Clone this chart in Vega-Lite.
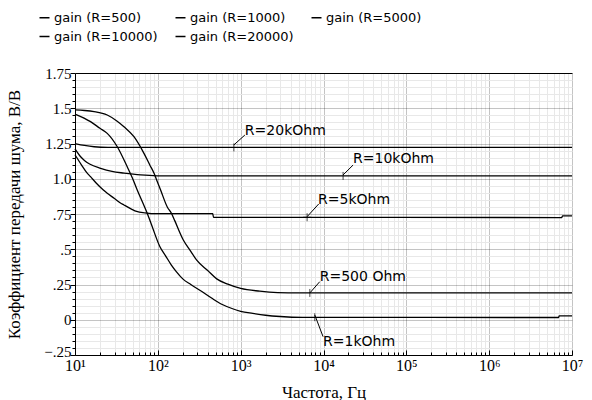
{
  "$schema": "https://vega.github.io/schema/vega-lite/v6.json",
  "width": 497,
  "height": 282,
  "autosize": {"type": "none"},
  "padding": {"left": 75, "top": 73, "right": 20, "bottom": 45},
  "background": "white",
  "config": {
    "view": {"stroke": null},
    "font": "DejaVu Sans",
    "legend": {
      "orient": "none",
      "legendX": -37,
      "legendY": -62,
      "columns": 3,
      "direction": "horizontal",
      "labelFont": "DejaVu Sans",
      "labelFontSize": 13,
      "labelColor": "black",
      "symbolType": "stroke",
      "symbolSize": 100,
      "symbolStrokeWidth": 1.5,
      "symbolStrokeColor": "black",
      "columnPadding": 14,
      "rowPadding": 5,
      "labelOffset": 3,
      "padding": 0
    }
  },
  "datasets": {
    "curves": [
      {"s": "gain (R=500)", "f": 10, "v": 1.488},
      {"s": "gain (R=500)", "f": 13, "v": 1.484},
      {"s": "gain (R=500)", "f": 17, "v": 1.476},
      {"s": "gain (R=500)", "f": 24.5, "v": 1.452},
      {"s": "gain (R=500)", "f": 32, "v": 1.41},
      {"s": "gain (R=500)", "f": 39, "v": 1.369},
      {"s": "gain (R=500)", "f": 51.5, "v": 1.298},
      {"s": "gain (R=500)", "f": 68, "v": 1.18},
      {"s": "gain (R=500)", "f": 80, "v": 1.098},
      {"s": "gain (R=500)", "f": 90, "v": 1.039},
      {"s": "gain (R=500)", "f": 97, "v": 0.99},
      {"s": "gain (R=500)", "f": 108, "v": 0.92},
      {"s": "gain (R=500)", "f": 130, "v": 0.8},
      {"s": "gain (R=500)", "f": 146, "v": 0.755},
      {"s": "gain (R=500)", "f": 160, "v": 0.703},
      {"s": "gain (R=500)", "f": 203, "v": 0.566},
      {"s": "gain (R=500)", "f": 250, "v": 0.485},
      {"s": "gain (R=500)", "f": 293, "v": 0.424},
      {"s": "gain (R=500)", "f": 400, "v": 0.349},
      {"s": "gain (R=500)", "f": 514, "v": 0.29},
      {"s": "gain (R=500)", "f": 700, "v": 0.252},
      {"s": "gain (R=500)", "f": 1000, "v": 0.222},
      {"s": "gain (R=500)", "f": 1700, "v": 0.203},
      {"s": "gain (R=500)", "f": 2800, "v": 0.193},
      {"s": "gain (R=500)", "f": 5000, "v": 0.19},
      {"s": "gain (R=500)", "f": 10000000, "v": 0.19},
      {"s": "gain (R=1000)", "f": 10, "v": 1.459},
      {"s": "gain (R=1000)", "f": 15.4, "v": 1.405},
      {"s": "gain (R=1000)", "f": 20, "v": 1.358},
      {"s": "gain (R=1000)", "f": 24.5, "v": 1.322},
      {"s": "gain (R=1000)", "f": 32.4, "v": 1.227},
      {"s": "gain (R=1000)", "f": 42.7, "v": 1.085},
      {"s": "gain (R=1000)", "f": 50.6, "v": 0.99},
      {"s": "gain (R=1000)", "f": 56.4, "v": 0.92},
      {"s": "gain (R=1000)", "f": 68, "v": 0.81},
      {"s": "gain (R=1000)", "f": 75, "v": 0.75},
      {"s": "gain (R=1000)", "f": 82, "v": 0.69},
      {"s": "gain (R=1000)", "f": 106, "v": 0.518},
      {"s": "gain (R=1000)", "f": 125, "v": 0.45},
      {"s": "gain (R=1000)", "f": 145, "v": 0.39},
      {"s": "gain (R=1000)", "f": 168, "v": 0.34},
      {"s": "gain (R=1000)", "f": 200, "v": 0.29},
      {"s": "gain (R=1000)", "f": 250, "v": 0.25},
      {"s": "gain (R=1000)", "f": 340, "v": 0.2},
      {"s": "gain (R=1000)", "f": 450, "v": 0.152},
      {"s": "gain (R=1000)", "f": 600, "v": 0.108},
      {"s": "gain (R=1000)", "f": 800, "v": 0.078},
      {"s": "gain (R=1000)", "f": 1000, "v": 0.06},
      {"s": "gain (R=1000)", "f": 1400, "v": 0.045},
      {"s": "gain (R=1000)", "f": 2000, "v": 0.032},
      {"s": "gain (R=1000)", "f": 3000, "v": 0.023},
      {"s": "gain (R=1000)", "f": 5600, "v": 0.017},
      {"s": "gain (R=1000)", "f": 6900000, "v": 0.016},
      {"s": "gain (R=1000)", "f": 7000000, "v": 0.027},
      {"s": "gain (R=1000)", "f": 10000000, "v": 0.027},
      {"s": "gain (R=5000)", "f": 10, "v": 1.17},
      {"s": "gain (R=5000)", "f": 12, "v": 1.097},
      {"s": "gain (R=5000)", "f": 13.8, "v": 1.045},
      {"s": "gain (R=5000)", "f": 15.4, "v": 1.015},
      {"s": "gain (R=5000)", "f": 18, "v": 0.97},
      {"s": "gain (R=5000)", "f": 22, "v": 0.92},
      {"s": "gain (R=5000)", "f": 24.5, "v": 0.897},
      {"s": "gain (R=5000)", "f": 30, "v": 0.86},
      {"s": "gain (R=5000)", "f": 35, "v": 0.83},
      {"s": "gain (R=5000)", "f": 39, "v": 0.814},
      {"s": "gain (R=5000)", "f": 48, "v": 0.785},
      {"s": "gain (R=5000)", "f": 55.5, "v": 0.768},
      {"s": "gain (R=5000)", "f": 70, "v": 0.758},
      {"s": "gain (R=5000)", "f": 98, "v": 0.752},
      {"s": "gain (R=5000)", "f": 460, "v": 0.752},
      {"s": "gain (R=5000)", "f": 470, "v": 0.727},
      {"s": "gain (R=5000)", "f": 7500000, "v": 0.725},
      {"s": "gain (R=5000)", "f": 7700000, "v": 0.736},
      {"s": "gain (R=5000)", "f": 10000000, "v": 0.736},
      {"s": "gain (R=10000)", "f": 10, "v": 1.212},
      {"s": "gain (R=10000)", "f": 11.7, "v": 1.156},
      {"s": "gain (R=10000)", "f": 13, "v": 1.13},
      {"s": "gain (R=10000)", "f": 15, "v": 1.105},
      {"s": "gain (R=10000)", "f": 20.4, "v": 1.074},
      {"s": "gain (R=10000)", "f": 28, "v": 1.052},
      {"s": "gain (R=10000)", "f": 39, "v": 1.04},
      {"s": "gain (R=10000)", "f": 62, "v": 1.027},
      {"s": "gain (R=10000)", "f": 98, "v": 1.021},
      {"s": "gain (R=10000)", "f": 200, "v": 1.02},
      {"s": "gain (R=10000)", "f": 10000000, "v": 1.02},
      {"s": "gain (R=20000)", "f": 10, "v": 1.25},
      {"s": "gain (R=20000)", "f": 13, "v": 1.236},
      {"s": "gain (R=20000)", "f": 17, "v": 1.227},
      {"s": "gain (R=20000)", "f": 25, "v": 1.223},
      {"s": "gain (R=20000)", "f": 10000000, "v": 1.222}
    ],
    "labels": [
      {"f": 1124, "v": 1.341, "text": "R=20kOhm"},
      {"f": 22750, "v": 1.138, "text": "R=10kOhm"},
      {"f": 8610, "v": 0.849, "text": "R=5kOhm"},
      {"f": 9010, "v": 0.305, "text": "R=500 Ohm"},
      {"f": 9880, "v": -0.156, "text": "R=1kOhm"}
    ],
    "leaders": [
      {"f": 828, "v": 1.24, "f2": 1124, "v2": 1.31},
      {"f": 17240, "v": 1.027, "f2": 22750, "v2": 1.097},
      {"f": 6340, "v": 0.731, "f2": 8750, "v2": 0.821},
      {"f": 6840, "v": 0.19, "f2": 9010, "v2": 0.27},
      {"f": 7850, "v": 0.034, "f2": 9880, "v2": -0.12}
    ],
    "markers": [
      {"f": 828, "v": 1.222, "kind": "tick"},
      {"f": 17240, "v": 1.02, "kind": "tick"},
      {"f": 6340, "v": 0.727, "kind": "cross"},
      {"f": 6840, "v": 0.19, "kind": "tick"},
      {"f": 7850, "v": 0.018, "kind": "tick"}
    ]
  },
  "layer": [
    {
      "data": {"name": "curves"},
      "mark": {"type": "line", "strokeWidth": 1.3, "interpolate": "monotone"},
      "encoding": {
        "x": {
          "field": "f",
          "type": "quantitative",
          "scale": {"type": "log", "domain": [10, 10000000], "nice": false},
          "axis": {
            "title": "Частота, Гц",
            "titleFont": "Liberation Serif",
            "titleFontSize": 17,
            "titleFontWeight": "normal",
            "titleColor": "black",
            "titlePadding": 9,
            "tickCount": 200,
            "values": [10, 20, 30, 40, 50, 60, 70, 80, 90, 100, 200, 300, 400, 500, 600, 700, 800, 900, 1000, 2000, 3000, 4000, 5000, 6000, 7000, 8000, 9000, 10000, 20000, 30000, 40000, 50000, 60000, 70000, 80000, 90000, 100000, 200000, 300000, 400000, 500000, 600000, 700000, 800000, 900000, 1000000, 2000000, 3000000, 4000000, 5000000, 6000000, 7000000, 8000000, 9000000, 10000000],
            "labelExpr": "abs(log(datum.value)/LN10 - round(log(datum.value)/LN10)) < 0.0001 ? '10' + ['⁰','¹','²','³','⁴','⁵','⁶','⁷'][round(log(datum.value)/LN10)] : ''",
            "labelFont": "Liberation Serif",
            "labelFontSize": 16,
            "labelColor": "black",
            "labelOverlap": false,
            "labelFlush": false,
            "labelPadding": 7,
            "tickColor": "black",
            "tickSize": {"condition": {"test": "abs(log(datum.value)/LN10 - round(log(datum.value)/LN10)) < 0.0001", "value": -5}, "value": -3},
            "domainColor": "black",
            "grid": true,
            "gridColor": {"condition": {"test": "abs(log(datum.value)/LN10 - round(log(datum.value)/LN10)) < 0.0001", "value": "#c4c4c4"}, "value": "#e8e8e8"}
          }
        },
        "y": {
          "field": "v",
          "type": "quantitative",
          "scale": {"domain": [-0.25, 1.75], "nice": false, "zero": false},
          "axis": {
            "title": "Коэффициент передачи шума, В/В",
            "titleFont": "Liberation Serif",
            "titleFontSize": 17,
            "titleFontWeight": "normal",
            "titleColor": "black",
            "titlePadding": 20,
            "tickCount": 200,
            "values": [-0.25, -0.2, -0.15, -0.1, -0.05, 0, 0.05, 0.1, 0.15, 0.2, 0.25, 0.3, 0.35, 0.4, 0.45, 0.5, 0.55, 0.6, 0.65, 0.7, 0.75, 0.8, 0.85, 0.9, 0.95, 1, 1.05, 1.1, 1.15, 1.2, 1.25, 1.3, 1.35, 1.4, 1.45, 1.5, 1.55, 1.6, 1.65, 1.7, 1.75],
            "labelExpr": "abs(datum.value*4 - round(datum.value*4)) > 0.001 ? '' : (abs(datum.value-1) < 0.001 ? '1.0' : (abs(datum.value) < 0.001 ? '0' : replace(format(datum.value, '.2~f'), '0.', '.')))",
            "labelFont": "Liberation Serif",
            "labelFontSize": 15,
            "labelColor": "black",
            "labelOverlap": false,
            "labelFlush": false,
            "labelPadding": -1,
            "labelOffset": {"condition": {"test": "datum.value < -0.2", "value": -4}, "value": 0},
            "tickColor": "black",
            "tickSize": {"condition": {"test": "abs(datum.value*4 - round(datum.value*4)) < 0.001", "value": 5}, "value": 3},
            "domainColor": "black",
            "grid": true,
            "gridColor": {"condition": {"test": "abs(datum.value*4 - round(datum.value*4)) < 0.001", "value": "#000000"}, "value": "#e8e8e8"},
            "gridOpacity": {"condition": {"test": "datum.value < 1.74 && abs(datum.value*4 - round(datum.value*4)) < 0.001", "value": 0.23}, "value": 1}
          }
        },
        "color": {
          "field": "s",
          "type": "nominal",
          "sort": ["gain (R=500)", "gain (R=1000)", "gain (R=5000)", "gain (R=10000)", "gain (R=20000)"],
          "scale": {"domain": ["gain (R=500)", "gain (R=1000)", "gain (R=5000)", "gain (R=10000)", "gain (R=20000)"], "range": ["#000000", "#000000", "#000000", "#000000", "#000000"]},
          "legend": {"title": null}
        }
      }
    },
    {
      "data": {"name": "leaders"},
      "mark": {"type": "rule", "color": "black", "strokeWidth": 1},
      "encoding": {
        "x": {"field": "f", "type": "quantitative", "title": "Частота, Гц"},
        "x2": {"field": "f2"},
        "y": {"field": "v", "type": "quantitative", "title": "Коэффициент передачи шума, В/В"},
        "y2": {"field": "v2"}
      }
    },
    {
      "data": {"name": "markers"},
      "mark": {"type": "point", "filled": false, "color": "black", "strokeWidth": 1, "size": 64},
      "encoding": {
        "x": {"field": "f", "type": "quantitative", "title": "Частота, Гц"},
        "y": {"field": "v", "type": "quantitative", "title": "Коэффициент передачи шума, В/В"},
        "shape": {"field": "kind", "type": "nominal", "scale": {"domain": ["tick", "cross"], "range": ["M0,-1V1", "M-1,0H1M0,-1V1"]}, "legend": null}
      }
    },
    {
      "data": {"name": "labels"},
      "mark": {"type": "text", "align": "left", "baseline": "middle", "font": "DejaVu Sans", "fontSize": 14, "color": "black"},
      "encoding": {
        "x": {"field": "f", "type": "quantitative", "title": "Частота, Гц"},
        "y": {"field": "v", "type": "quantitative", "title": "Коэффициент передачи шума, В/В"},
        "text": {"field": "text"}
      }
    }
  ]
}
